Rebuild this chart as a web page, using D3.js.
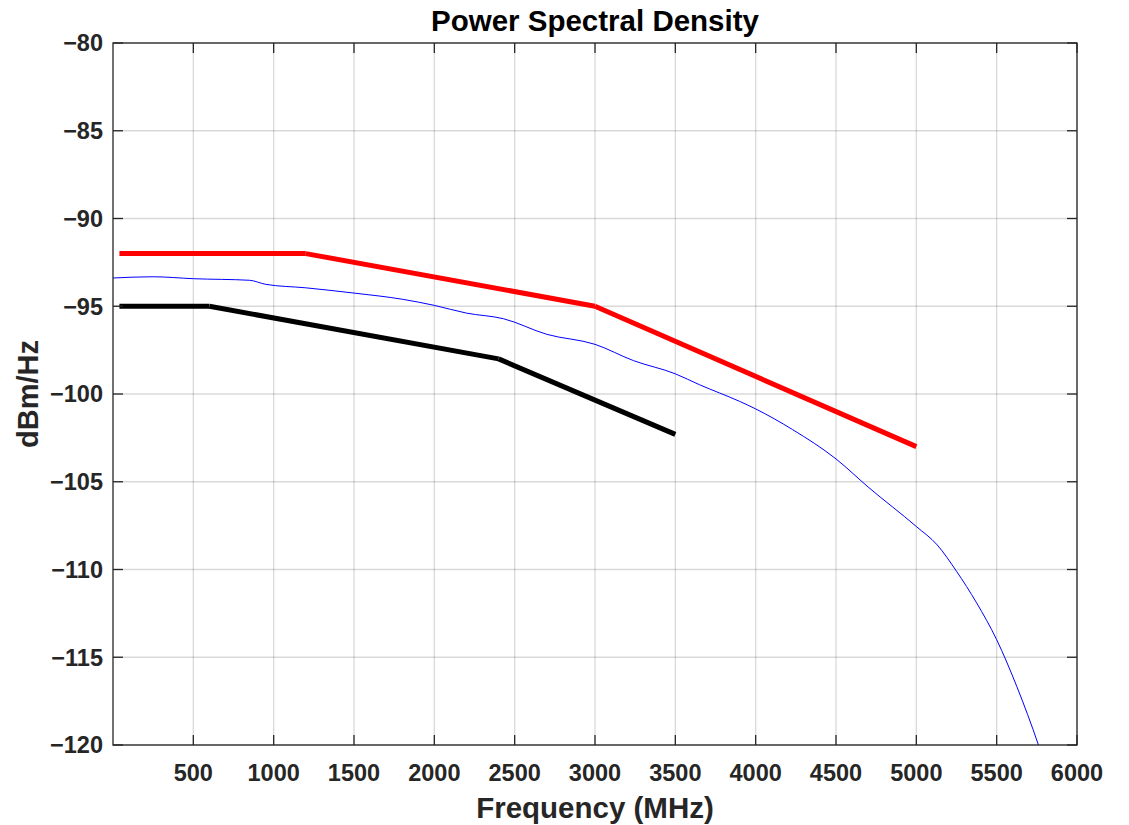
<!DOCTYPE html>
<html>
<head>
<meta charset="utf-8">
<script src="https://cdn.jsdelivr.net/npm/d3@7"></script>
<style>
  html, body { margin: 0; padding: 0; background: #ffffff; }
  svg { display: block; }
  text { font-family: "Liberation Sans", Arial, Helvetica, sans-serif; }
</style>
</head>
<body>
<svg id="chart" width="1129" height="825"></svg>
<script>
// ---- Data ----
const xTicks = [500, 1000, 1500, 2000, 2500, 3000, 3500, 4000, 4500, 5000, 5500, 6000];
const yTicks = [-80, -85, -90, -95, -100, -105, -110, -115, -120];

const redFreq = [40, 1200, 3000, 5000];
const redPSD = [-92, -92, -95, -103];

const blackFreq = [40, 600, 2400, 3500];
const blackPSD = [-95, -95, -98, -102.3];

const blueFreq = [0, 250, 500, 850, 950, 1200, 1500, 1800, 2000, 2200, 2430, 2700, 3000, 3240, 3500, 3650, 3900, 4000, 4230, 4500, 4700, 5000, 5130, 5250, 5375, 5500, 5625, 5760, 5800];
const bluePSD = [-93.39, -93.32, -93.43, -93.52, -93.75, -93.95, -94.25, -94.6, -94.95, -95.39, -95.71, -96.6, -97.17, -98.1, -98.85, -99.47, -100.42, -100.85, -102.03, -103.7, -105.3, -107.55, -108.6, -110.1, -111.9, -114.0, -116.66, -120, -121.1];

const titleText = "Power Spectral Density";
const xLabelText = "Frequency (MHz)";
const yLabelText = "dBm/Hz";

// ---- Layout ----
(function () {
const svg = d3.select("#chart");
const pLeft = 113, pRight = 1077, pTop = 43, pBottom = 745;
const axisColor = "#262626";
const fmt = d => (d < 0 ? "\u2212" + Math.abs(d) : String(d));

const x = d3.scaleLinear().domain([0, 6000]).range([pLeft, pRight]);
const y = d3.scaleLinear().domain([-120, -80]).range([pBottom, pTop]);

// grid
const grid = svg.append("g");
grid.selectAll(null).data(xTicks).enter().append("line")
  .attr("x1", d => x(d)).attr("x2", d => x(d))
  .attr("y1", pTop).attr("y2", pBottom)
  .attr("stroke", "#000").attr("stroke-opacity", 0.15).attr("stroke-width", 1.3);
grid.selectAll(null).data(yTicks).enter().append("line")
  .attr("y1", d => y(d)).attr("y2", d => y(d))
  .attr("x1", pLeft).attr("x2", pRight)
  .attr("stroke", "#000").attr("stroke-opacity", 0.15).attr("stroke-width", 1.3);

// clip
svg.append("defs").append("clipPath").attr("id", "clip")
  .append("rect").attr("x", pLeft).attr("y", pTop).attr("width", pRight - pLeft).attr("height", pBottom - pTop);

const plot = svg.append("g").attr("clip-path", "url(#clip)");

// blue curve
const blueData = blueFreq.map((f, i) => [f, bluePSD[i]]);
const blueLine = d3.line().x(d => x(d[0])).y(d => y(d[1])).curve(d3.curveMonotoneX);
plot.append("path").datum(blueData)
  .attr("d", blueLine).attr("fill", "none")
  .attr("stroke", "#0000ff").attr("stroke-width", 1);

// segmented thick lines
function drawSegments(freq, psd, color) {
  const segs = [];
  for (let i = 0; i < freq.length - 1; i++) {
    segs.push([[freq[i], psd[i]], [freq[i + 1], psd[i + 1]]]);
  }
  plot.selectAll(null).data(segs).enter().append("line")
    .attr("x1", d => x(d[0][0])).attr("y1", d => y(d[0][1]))
    .attr("x2", d => x(d[1][0])).attr("y2", d => y(d[1][1]))
    .attr("stroke", color).attr("stroke-width", 5).attr("stroke-linecap", "butt");
}
drawSegments(redFreq, redPSD, "#ff0000");
drawSegments(blackFreq, blackPSD, "#000000");

// axes box and ticks
const tickLen = 10;
const axes = svg.append("g");
axes.append("rect").attr("x", pLeft).attr("y", pTop).attr("width", pRight - pLeft).attr("height", pBottom - pTop)
  .attr("fill", "none").attr("stroke", axisColor).attr("stroke-width", 1.3);

axes.selectAll(null).data(xTicks).enter().append("line")
  .attr("x1", d => x(d)).attr("x2", d => x(d)).attr("y1", pBottom).attr("y2", pBottom - tickLen)
  .attr("stroke", axisColor).attr("stroke-width", 1.3);
axes.selectAll(null).data(xTicks).enter().append("line")
  .attr("x1", d => x(d)).attr("x2", d => x(d)).attr("y1", pTop).attr("y2", pTop + tickLen)
  .attr("stroke", axisColor).attr("stroke-width", 1.3);
axes.selectAll(null).data(yTicks).enter().append("line")
  .attr("y1", d => y(d)).attr("y2", d => y(d)).attr("x1", pLeft).attr("x2", pLeft + tickLen)
  .attr("stroke", axisColor).attr("stroke-width", 1.3);
axes.selectAll(null).data(yTicks).enter().append("line")
  .attr("y1", d => y(d)).attr("y2", d => y(d)).attr("x1", pRight).attr("x2", pRight - tickLen)
  .attr("stroke", axisColor).attr("stroke-width", 1.3);

// tick labels
axes.selectAll(null).data(xTicks).enter().append("text")
  .attr("x", d => x(d)).attr("y", 781)
  .attr("text-anchor", "middle").attr("font-size", 23.5).attr("font-weight", "bold")
  .attr("fill", axisColor).text(fmt);
axes.selectAll(null).data(yTicks).enter().append("text")
  .attr("x", 103).attr("y", d => y(d)).attr("dy", "0.36em")
  .attr("text-anchor", "end").attr("font-size", 23.5).attr("font-weight", "bold")
  .attr("fill", axisColor).text(fmt);

// labels
svg.append("text").attr("x", (pLeft + pRight) / 2).attr("y", 31)
  .attr("text-anchor", "middle").attr("font-size", 29.5).attr("font-weight", "bold")
  .attr("fill", "#000").text(titleText);
svg.append("text").attr("x", (pLeft + pRight) / 2).attr("y", 818)
  .attr("text-anchor", "middle").attr("font-size", 29.5).attr("font-weight", "bold")
  .attr("fill", axisColor).text(xLabelText);
svg.append("text")
  .attr("transform", `translate(38, ${(pTop + pBottom) / 2}) rotate(-90)`)
  .attr("text-anchor", "middle").attr("font-size", 29).attr("font-weight", "bold")
  .attr("fill", axisColor).text(yLabelText);
})();
</script>
</body>
</html>
